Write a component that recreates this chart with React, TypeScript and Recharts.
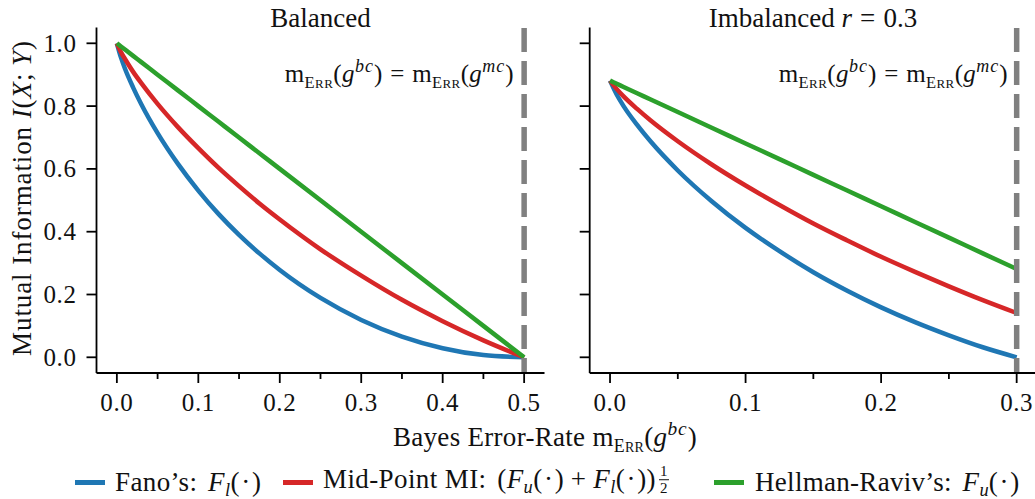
import React from 'react';
import { LineChart, Line, XAxis, YAxis, ReferenceLine } from 'recharts';

// Bayes error-rate grid and bounds on I(X;Y) for the balanced case
const errBalanced = [0, 0.005, 0.01, 0.02, 0.03, 0.05, 0.075, 0.1, 0.125, 0.15, 0.175, 0.2, 0.25, 0.3, 0.35, 0.4, 0.45, 0.5];
const fanoBalanced = [1.0, 0.955, 0.919, 0.859, 0.806, 0.714, 0.616, 0.531, 0.456, 0.39, 0.331, 0.278, 0.189, 0.119, 0.066, 0.029, 0.007, 0.0];
const midBalanced = [1.0, 0.972, 0.95, 0.909, 0.873, 0.807, 0.733, 0.666, 0.603, 0.545, 0.49, 0.439, 0.344, 0.26, 0.183, 0.115, 0.054, 0.0];
const hellmanBalanced = [1.0, 0.99, 0.98, 0.96, 0.94, 0.9, 0.85, 0.8, 0.75, 0.7, 0.65, 0.6, 0.5, 0.4, 0.3, 0.2, 0.1, 0.0];

// Imbalanced case, r = 0.3
const errImbalanced = [0, 0.005, 0.01, 0.02, 0.03, 0.05, 0.075, 0.1, 0.125, 0.15, 0.175, 0.2, 0.225, 0.25, 0.275, 0.3];
const fanoImbalanced = [0.881, 0.836, 0.8, 0.74, 0.687, 0.595, 0.497, 0.412, 0.338, 0.271, 0.212, 0.159, 0.112, 0.07, 0.032, 0.0];
const midImbalanced = [0.881, 0.854, 0.831, 0.791, 0.754, 0.688, 0.614, 0.547, 0.485, 0.426, 0.372, 0.32, 0.272, 0.226, 0.182, 0.141];
const hellmanImbalanced = [0.881, 0.871, 0.861, 0.841, 0.821, 0.781, 0.731, 0.681, 0.631, 0.581, 0.531, 0.481, 0.431, 0.381, 0.331, 0.281];

const xTicksBalanced = [0, 0.05, 0.1, 0.15, 0.2, 0.25, 0.3, 0.35, 0.4, 0.45, 0.5];
const xTicksImbalanced = [0, 0.05, 0.1, 0.15, 0.2, 0.25, 0.3];
const yTicks = [0, 0.2, 0.4, 0.6, 0.8, 1.0];

const panelTitles = ['Balanced', 'Imbalanced'];

const BLUE = '#1f77b4';
const RED = '#d62728';
const GREEN = '#2ca02c';
const GRAY = '#808080';
const INK = '#111';
const SERIF = '"Liberation Serif", "Times New Roman", serif';

const buildRows = (err: number[], fano: number[], mid: number[], hell: number[]) =>
  err.map((e, i) => ({ e, fano: fano[i], mid: mid[i], hellman: hell[i] }));

const rowsBalanced = buildRows(errBalanced, fanoBalanced, midBalanced, hellmanBalanced);
const rowsImbalanced = buildRows(errImbalanced, fanoImbalanced, midImbalanced, hellmanImbalanced);

const isMajor = (v: number) => Math.abs(v * 10 - Math.round(v * 10)) < 1e-6;

const XTick = (props: any) => {
  const { x, y, payload } = props;
  const major = isMajor(payload.value);
  return (
    <g>
      <line x1={x} x2={x} y1={y} y2={y + (major ? 10 : 6)} stroke="#000" strokeWidth={1.8} />
      {major && (
        <text x={x} y={y + 38} textAnchor="middle" fontFamily={SERIF} fontSize={25} fill={INK} letterSpacing={0.6}>
          {payload.value.toFixed(1)}
        </text>
      )}
    </g>
  );
};

const makeYTick = (showLabel: boolean) => (props: any) => {
  const { x, y, payload } = props;
  return (
    <g>
      <line x1={x} x2={x - 10} y1={y} y2={y} stroke="#000" strokeWidth={1.8} />
      {showLabel && (
        <text x={x - 20} y={y + 8.5} textAnchor="end" fontFamily={SERIF} fontSize={25} fill={INK} letterSpacing={0.6}>
          {payload.value.toFixed(1)}
        </text>
      )}
    </g>
  );
};

type PanelProps = {
  rows: any[];
  left: number;
  width: number;
  yAxisWidth: number;
  marginRight: number;
  xDomain: [number, number];
  xTicks: number[];
  showYLabels: boolean;
  boundary: number;
};

const Panel = ({ rows, left, width, yAxisWidth, marginRight, xDomain, xTicks, showYLabels, boundary }: PanelProps) => (
  <div style={{ position: 'absolute', left, top: 0 }}>
    <LineChart width={width} height={499} data={rows} margin={{ top: 27.6, right: marginRight, bottom: 86, left: 0 }}>
      <XAxis
        dataKey="e"
        type="number"
        domain={xDomain}
        ticks={xTicks}
        interval={0}
        allowDataOverflow
        height={40}
        tickSize={0}
        tickMargin={0}
        tickLine={false}
        axisLine={{ stroke: '#000', strokeWidth: 1.8 }}
        tick={(p: any) => <XTick {...p} />}
      />
      <YAxis
        type="number"
        domain={[-0.05, 1.05]}
        ticks={yTicks}
        interval={0}
        allowDataOverflow
        width={yAxisWidth}
        tickSize={0}
        tickMargin={0}
        tickLine={false}
        axisLine={{ stroke: '#000', strokeWidth: 1.8 }}
        tick={makeYTick(showYLabels)}
      />
      <Line type="monotone" dataKey="fano" stroke={BLUE} strokeWidth={4.5} dot={false} activeDot={false} isAnimationActive={false} />
      <Line type="monotone" dataKey="mid" stroke={RED} strokeWidth={4.5} dot={false} activeDot={false} isAnimationActive={false} />
      <Line type="monotone" dataKey="hellman" stroke={GREEN} strokeWidth={4.5} dot={false} activeDot={false} isAnimationActive={false} />
      <ReferenceLine x={boundary} stroke={GRAY} strokeWidth={5.5} strokeDasharray="24 9" strokeDashoffset={9} />
    </LineChart>
  </div>
);

// Text placed by its centre point
const Txt = ({ cx, cy, size, anchor = 'middle', spacing = 0, children }: any) => {
  const tx = anchor === 'middle' ? '-50%' : anchor === 'end' ? '-100%' : '0';
  return (
    <div
      style={{
        position: 'absolute',
        left: cx,
        top: cy,
        transform: `translate(${tx}, -50%)`,
        fontFamily: SERIF,
        fontSize: size,
        lineHeight: 1,
        color: INK,
        whiteSpace: 'nowrap',
        letterSpacing: spacing,
      }}
    >
      {children}
    </div>
  );
};

const It = ({ children }: any) => <span style={{ fontStyle: 'italic' }}>{children}</span>;
const Gap = ({ em }: { em: number }) => <span style={{ display: 'inline-block', width: `${em}em` }} />;

const MErr = ({ size }: { size: number }) => (
  <>
    <span>m</span>
    <span style={{ position: 'relative', top: size * 0.22 }}>
      <span style={{ fontSize: size * 0.66 }}>E</span>
      <span style={{ fontSize: size * 0.52 }}>RR</span>
    </span>
  </>
);

const GArg = ({ size, sup }: { size: number; sup: string }) => (
  <>
    <span>(</span>
    <It>g</It>
    <span style={{ position: 'relative', top: -size * 0.42, fontSize: size * 0.72, fontStyle: 'italic', letterSpacing: 1 }}>{sup}</span>
    <span>)</span>
  </>
);

const Equality = ({ size }: { size: number }) => (
  <>
    <MErr size={size} />
    <GArg size={size} sup="bc" />
    <Gap em={0.3} />=<Gap em={0.3} />
    <MErr size={size} />
    <GArg size={size} sup="mc" />
  </>
);

const Fn = ({ sub }: { sub: string }) => (
  <>
    <It>F</It>
    <span style={{ fontStyle: 'italic', fontSize: '0.68em', position: 'relative', top: '0.25em' }}>{sub}</span>
    <span>(<Gap em={0.05} />·<Gap em={0.05} />)</span>
  </>
);

const Half = () => (
  <span
    style={{
      display: 'inline-flex',
      flexDirection: 'column',
      alignItems: 'center',
      fontSize: 15,
      lineHeight: 0.95,
      verticalAlign: 'middle',
      marginLeft: 3,
      position: 'relative',
      top: -2,
    }}
  >
    <span>1</span>
    <span style={{ width: 10, borderTop: `1.2px solid ${INK}`, margin: '1px 0' }} />
    <span>2</span>
  </span>
);

const Swatch = ({ x, color }: { x: number; color: string }) => (
  <div style={{ position: 'absolute', left: x, top: 479.5, width: 30, height: 5, background: color }} />
);

export default function App() {
  const base = 27;
  return (
    <div style={{ position: 'absolute', left: 0, top: 0, width: 1035, height: 499, overflow: 'hidden', background: '#fff' }}>
      <Panel
        rows={rowsBalanced}
        left={0}
        width={560}
        yAxisWidth={96.5}
        marginRight={15.5}
        xDomain={[-0.025, 0.525]}
        xTicks={xTicksBalanced}
        showYLabels
        boundary={0.5}
      />
      <Panel
        rows={rowsImbalanced}
        left={560}
        width={480}
        yAxisWidth={29.7}
        marginRight={3}
        xDomain={[-0.015, 0.315]}
        xTicks={xTicksImbalanced}
        showYLabels={false}
        boundary={0.3}
      />

      <Txt cx={320.5} cy={18} size={base}>{panelTitles[0]}</Txt>
      <Txt cx={813} cy={18} size={base}>
        {panelTitles[1]} <It>r</It><Gap em={0.3} />=<Gap em={0.3} />0.3
      </Txt>

      <Txt cx={514} cy={73} size={25} anchor="end" spacing={0.4}><Equality size={25} /></Txt>
      <Txt cx={1008} cy={73} size={25} anchor="end" spacing={0.4}><Equality size={25} /></Txt>

      <div
        style={{
          position: 'absolute',
          left: 22,
          top: 198,
          transform: 'translate(-50%, -50%) rotate(-90deg)',
          fontFamily: SERIF,
          fontSize: base,
          lineHeight: 1,
          color: INK,
          whiteSpace: 'nowrap',
          letterSpacing: 0.9,
        }}
      >
        Mutual Information <It>I</It>(<It>X</It>;<Gap em={0.25} /><It>Y</It>)
      </div>

      <Txt cx={545} cy={437} size={base} spacing={0.3}>
        Bayes Error-Rate <MErr size={base} /><GArg size={base} sup="bc" />
      </Txt>

      <Swatch x={75} color={BLUE} />
      <Txt cx={115} cy={482} size={base} anchor="start" spacing={0.4}>
        Fano’s:<Gap em={0.4} /><Fn sub="l" />
      </Txt>
      <Swatch x={283} color={RED} />
      <Txt cx={323} cy={482} size={base} anchor="start" spacing={0.4}>
        Mid-Point MI:<Gap em={0.4} />(<Fn sub="u" /><Gap em={0.25} />+<Gap em={0.25} /><Fn sub="l" />)<Half />
      </Txt>
      <Swatch x={714} color={GREEN} />
      <Txt cx={755} cy={482} size={base} anchor="start" spacing={0.3}>
        Hellman-Raviv’s:<Gap em={0.4} /><Fn sub="u" />
      </Txt>
    </div>
  );
}
